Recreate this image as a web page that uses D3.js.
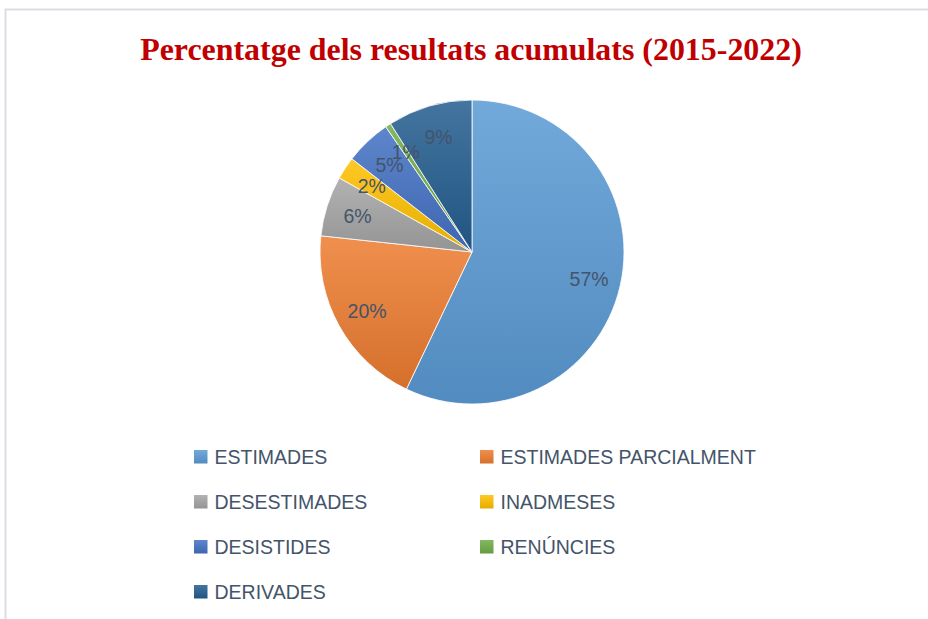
<!DOCTYPE html>
<html>
<head>
<meta charset="utf-8">
<script src="https://cdn.jsdelivr.net/npm/d3@7"></script>
<style>
  html, body { margin: 0; padding: 0; background: #fff; }
  svg { display: block; }
</style>
</head>
<body>
<div id="chart"></div>
<script>
// Data
const categories = ['ESTIMADES', 'ESTIMADES PARCIALMENT', 'DESESTIMADES', 'INADMESES', 'DESISTIDES', 'RENÚNCIES', 'DERIVADES'];
const values = [57.1, 19.6, 6.4, 2.4, 4.9, 0.6, 9.0];
const colors = ['#5b9bd5', '#ed7d31', '#a5a5a5', '#ffc000', '#4472c4', '#70ad47', '#255e91'];
const title = 'Percentatge dels resultats acumulats (2015-2022)';

const width = 928;
const height = 619;
const cx = 472, cy = 252, radius = 152;
const textColor = '#44546a';

const svg = d3.select('#chart')
    .append('svg')
    .attr('width', width)
    .attr('height', height);

// Gradients: lighter at the top, darker at the bottom
const defs = svg.append('defs');
colors.forEach((c, i) => {
    const g = defs.append('linearGradient')
        .attr('id', 'grad' + i)
        .attr('x1', 0).attr('y1', 0)
        .attr('x2', 0).attr('y2', 1);
    g.append('stop').attr('offset', '0%').attr('stop-color', d3.interpolateRgb(c, '#ffffff')(0.14));
    g.append('stop').attr('offset', '100%').attr('stop-color', d3.color(c).darker(0.3).formatHex());
});

// Chart area border (only top and left are visible)
svg.append('path')
    .attr('d', `M5.5,${height + 2} L5.5,9.5 L${width + 2},9.5`)
    .attr('fill', 'none')
    .attr('stroke', '#d9dde4')
    .attr('stroke-width', 2);

// Title
const titleText = svg.append('text')
    .attr('x', 471)
    .attr('y', 60)
    .attr('text-anchor', 'middle')
    .style('font-family', '"Liberation Serif", "Times New Roman", serif')
    .style('font-weight', 'bold')
    .style('font-size', '31px')
    .style('fill', '#c00000')
    .text(title);
// fit title to the width it takes in the reference
const tw = titleText.node().getComputedTextLength();
titleText.style('font-size', (31 * 662 / tw).toFixed(2) + 'px');

// Pie
const pie = d3.pie().sort(null).value(d => d.value);
const data = categories.map((name, i) => ({ name, value: values[i], i }));
const arcs = pie(data);
const total = d3.sum(values);

const arc = d3.arc().innerRadius(0).outerRadius(radius);
const labelArc = d3.arc().innerRadius(radius * 0.79).outerRadius(radius * 0.79);

const g = svg.append('g').attr('transform', `translate(${cx},${cy})`);

g.selectAll('path')
    .data(arcs)
    .enter()
    .append('path')
    .attr('d', arc)
    .attr('fill', d => `url(#grad${d.data.i})`)
    .attr('stroke', '#ffffff')
    .attr('stroke-width', 0.8);

g.selectAll('text')
    .data(arcs)
    .enter()
    .append('text')
    .attr('transform', d => `translate(${labelArc.centroid(d)})`)
    .attr('text-anchor', 'middle')
    .attr('dy', '0.36em')
    .style('font-family', '"Liberation Sans", Arial, sans-serif')
    .style('font-size', '19.5px')
    .style('fill', textColor)
    .text(d => Math.round(d.data.value / total * 100) + '%');

// Legend: two columns
const colX = [194, 480];
const rowY = d3.scalePoint().domain([0, 1, 2, 3]).range([463.5, 598.5]);

const legend = svg.append('g')
    .selectAll('g')
    .data(data)
    .enter()
    .append('g')
    .attr('transform', d => `translate(${colX[d.i % 2]},${rowY(Math.floor(d.i / 2))})`);

legend.append('rect')
    .attr('x', 0)
    .attr('y', -13.5)
    .attr('width', 13.5)
    .attr('height', 13.5)
    .attr('fill', d => `url(#grad${d.i})`);

legend.append('text')
    .attr('x', 20.5)
    .attr('y', 0)
    .style('font-family', '"Liberation Sans", Arial, sans-serif')
    .style('font-size', '19.5px')
    .style('fill', textColor)
    .text(d => d.name);
</script>
</body>
</html>
